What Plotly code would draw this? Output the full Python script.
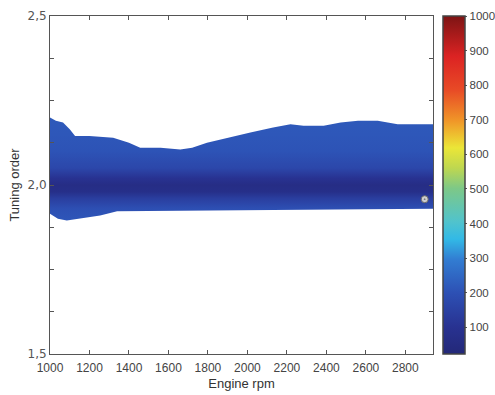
import plotly.graph_objects as go
from plotly.colors import sample_colorscale

# Upper and lower edges of the order band (engine rpm vs tuning order)
upper_rpm = [1000, 1030, 1066, 1100, 1127, 1200, 1320, 1400, 1457, 1560, 1660, 1720,
             1795, 1900, 2015, 2130, 2218, 2284, 2386, 2472, 2560, 2660, 2761, 2940]
upper_ord = [2.20, 2.19, 2.185, 2.165, 2.145, 2.145, 2.14, 2.125, 2.11, 2.11, 2.105, 2.11,
             2.125, 2.14, 2.155, 2.17, 2.18, 2.175, 2.175, 2.185, 2.19, 2.19, 2.18, 2.18]
lower_rpm = [1000, 1040, 1085, 1150, 1254, 1340, 1500, 1700, 2000, 2300, 2600, 2940]
lower_ord = [1.915, 1.90, 1.895, 1.90, 1.91, 1.922, 1.924, 1.925, 1.926, 1.927, 1.928, 1.93]

# Amplitude across the band (order -> level)
profile_ord = [1.89, 1.93, 1.96, 1.98, 2.00, 2.02, 2.05, 2.10, 2.15, 2.21]
profile_lvl = [215, 195, 140, 75, 65, 100, 170, 205, 215, 220]

# Marked operating point
point_rpm = [2898]
point_ord = [1.958]

x_ticks = [1000, 1200, 1400, 1600, 1800, 2000, 2200, 2400, 2600, 2800]
y_ticks = [1.5, 1.625, 1.75, 1.875, 2.0, 2.125, 2.25, 2.375, 2.5]
y_text = ["1,5", "", "", "", "2,0", "", "", "", "2,5"]
cbar_ticks = [100, 200, 300, 400, 500, 600, 700, 800, 900, 1000]

cmin, cmax = 23, 1000

jet = [
    [0.00, "rgb(35,40,120)"],
    [0.08, "rgb(40,50,145)"],
    [0.18, "rgb(45,80,180)"],
    [0.28, "rgb(50,125,210)"],
    [0.34, "rgb(50,185,230)"],
    [0.39, "rgb(80,195,205)"],
    [0.49, "rgb(125,200,135)"],
    [0.55, "rgb(190,215,80)"],
    [0.61, "rgb(235,230,55)"],
    [0.69, "rgb(240,150,40)"],
    [0.78, "rgb(232,75,38)"],
    [0.88, "rgb(220,35,35)"],
    [1.00, "rgb(125,20,20)"],
]

# Vertical fill gradient for the band, coloured by level through the colour scale
o_lo, o_hi = profile_ord[0], profile_ord[-1]
grad_pos = [(o - o_lo) / (o_hi - o_lo) for o in profile_ord]
grad_col = sample_colorscale(jet, [(v - cmin) / (cmax - cmin) for v in profile_lvl])
grad_scale = [[p, c] for p, c in zip(grad_pos, grad_col)]

band_x = upper_rpm + lower_rpm[::-1]
band_y = upper_ord + lower_ord[::-1]

fig = go.Figure()
fig.add_trace(go.Scatter(
    x=band_x, y=band_y, mode="lines", fill="toself",
    line=dict(width=0),
    fillgradient=dict(type="vertical", start=o_lo, stop=o_hi, colorscale=grad_scale),
    hoverinfo="skip", showlegend=False,
))
fig.add_trace(go.Scatter(
    x=point_rpm, y=point_ord, mode="markers",
    marker=dict(symbol="circle-dot", size=7, color="#cfcfcf",
                line=dict(width=1, color="#6a6a6a")),
    showlegend=False,
))
# Colour bar
fig.add_trace(go.Scatter(
    x=[None], y=[None], mode="markers",
    marker=dict(color=[cmin], cmin=cmin, cmax=cmax, colorscale=jet, showscale=True,
                colorbar=dict(
                    x=1.026, xanchor="left", xpad=0, y=0, yanchor="bottom", ypad=0, len=1,
                    thickness=22, outlinewidth=1.5, outlinecolor="#444",
                    tickvals=cbar_ticks, ticks="outside", ticklen=2, tickcolor="#555",
                    tickfont=dict(family="Liberation Sans, Arial", size=11.5, color="#444"),
                )),
    showlegend=False,
))

axis_font = dict(family="Liberation Sans, Arial", size=12, color="#444")
fig.update_layout(
    width=495, height=395,
    margin=dict(l=50, r=62, t=16, b=41, autoexpand=False),
    paper_bgcolor="white", plot_bgcolor="white",
    font=dict(family="Liberation Sans, Arial", color="#333"),
    xaxis=dict(
        range=[1000, 2940], tickvals=x_ticks, ticks="inside", ticklen=4,
        tickcolor="#555", showline=True, linecolor="#555", linewidth=1, mirror="ticks",
        showgrid=False, zeroline=False, tickfont=axis_font, ticklabelstandoff=3,
        title=dict(text="Engine rpm", font=dict(size=13, color="#333"), standoff=4),
    ),
    yaxis=dict(
        range=[1.5, 2.5], tickvals=y_ticks, ticktext=y_text, ticks="inside", ticklen=4,
        tickcolor="#555", showline=True, linecolor="#555", linewidth=1, mirror="ticks",
        showgrid=False, zeroline=False, tickfont=dict(family="DejaVu Sans", size=12, color="#555"),
        title=dict(text="Tuning order", font=dict(size=13, color="#333"), standoff=4),
    ),
)

fig.write_html("out.html")
